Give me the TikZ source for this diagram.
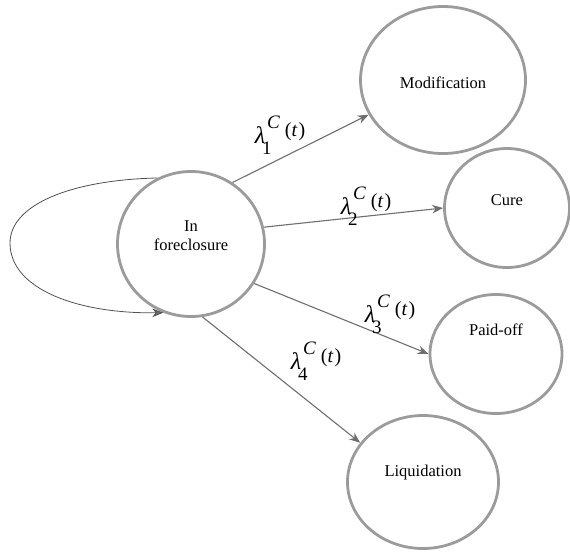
\documentclass[tikz,border=0pt]{standalone}
\usepackage{fontspec}
\setmainfont{Liberation Serif}
\usetikzlibrary{positioning,shapes,arrows.meta,calc}
\definecolor{ringgray}{HTML}{9B9B9B}
\definecolor{linkgray}{HTML}{6E6E6E}
\definecolor{loopgray}{HTML}{505050}
% rate label: lambda with stacked index and C, then (t)
\newcommand{\ratelabel}[1]{%
  {\fontsize{24}{24}\selectfont\itshape λ}\kern-3pt\rlap{\raisebox{-11pt}{\fontsize{19}{20}\selectfont #1}}%
  \kern5pt\raisebox{15pt}{\fontsize{19}{20}\selectfont\itshape C}%
  \kern5pt\raisebox{7pt}{(\textit{t}\kern1pt)}}

\tikzset{
  state/.style={ellipse, draw=ringgray, line width=2.8pt, inner sep=0pt,
    font=\fontsize{16.5}{20}\selectfont},
  link/.style={draw=linkgray, line width=1.1pt, -{Stealth[length=11pt,width=8.5pt]}},
  rate/.style={font=\fontsize{20}{24}\selectfont, inner sep=0pt}
}

\begin{document}
\begin{tikzpicture}[x=1pt,y=-1pt]
  \useasboundingbox (0,0) rectangle (570,552);

  % states
  \node[state, minimum width=147pt, minimum height=145pt,
        label={[yshift=8pt,align=center,font=\fontsize{16.5}{19}\selectfont]center:In\\foreclosure}] (fc) at (191,244) {};
  \node[state, minimum width=165pt, minimum height=147pt,
        label={[yshift=-3pt,font=\fontsize{16.5}{20}\selectfont]center:Modification}] (mod) at (443,80) {};
  \node[state, minimum width=125pt, minimum height=119pt,
        label={[yshift=8pt,font=\fontsize{16.5}{20}\selectfont]center:Cure}] (cure) at (507,208) {};
  \node[state, minimum width=132pt, minimum height=119pt,
        label={[yshift=24pt,font=\fontsize{16.5}{20}\selectfont]center:Paid-off}] (paid) at (496,354) {};
  \node[state, minimum width=151pt, minimum height=133pt,
        label={[yshift=9pt,font=\fontsize{16.5}{20}\selectfont]center:Liquidation}] (liq) at (423,482) {};

  % transitions
  \draw[link] (fc.56) -- (mod.205);
  \draw[link] (fc.13) -- (cure.180);
  \draw[link] (fc.-32) -- (paid.180);
  \draw[link] (fc.-81) -- (liq.148);

  % self loop
  \draw[draw=loopgray, line width=0.8pt, -{Stealth[length=11pt,width=8.5pt,fill=linkgray]}]
    (fc.117) .. controls (70,180) and (10,205) .. (10,243)
    .. controls (10,290) and (80,314) .. (fc.-112);

  % rates
  \node[rate] (r1) at (280,135) {\ratelabel{1}};
  \node[rate] (r2) at (366,206) {\ratelabel{2}};
  \node[rate] (r3) at (390,314) {\ratelabel{3}};
  \node[rate] (r4) at (316,361) {\ratelabel{4}};
\end{tikzpicture}
\end{document}
